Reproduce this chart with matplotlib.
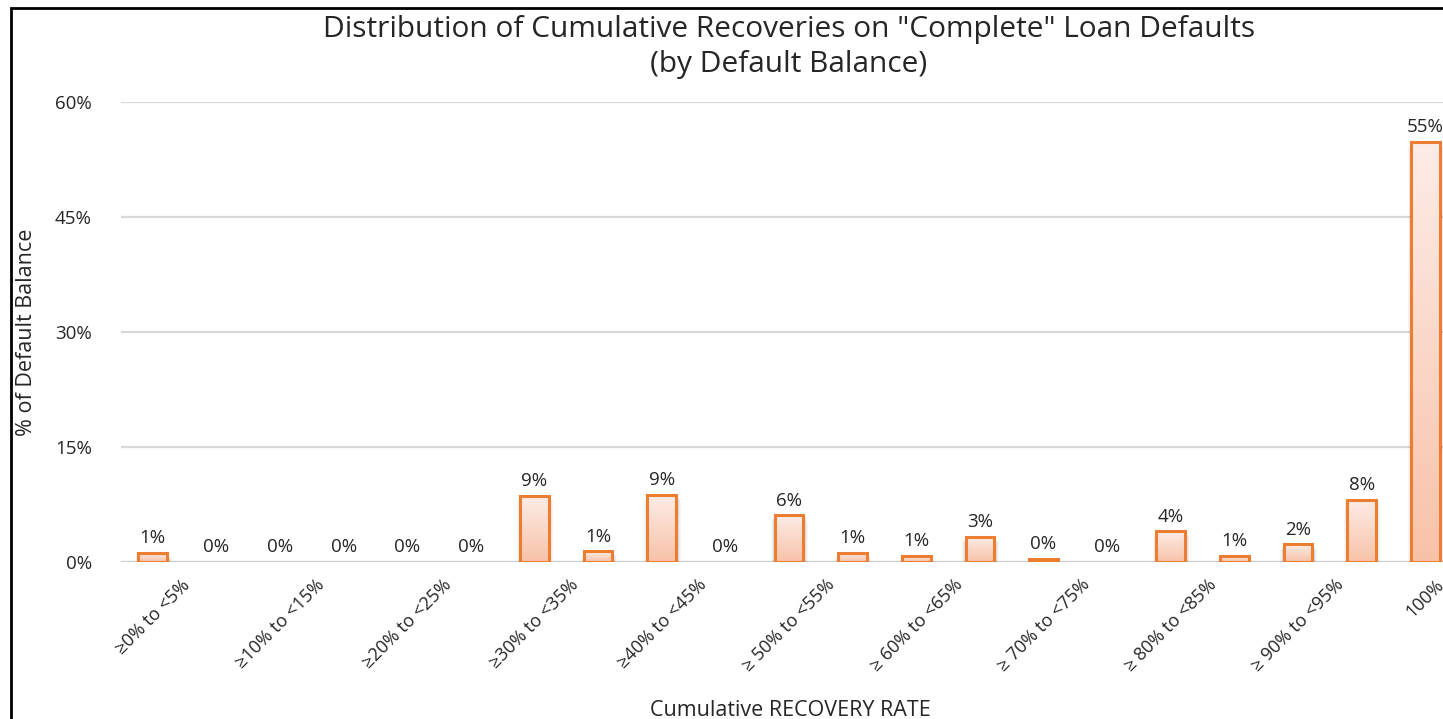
import matplotlib
matplotlib.use("Agg")
import matplotlib.pyplot as plt
import numpy as np
from matplotlib.colors import LinearSegmentedColormap
from matplotlib.patches import Rectangle

plt.rcParams['font.family'] = ['Open Sans', 'DejaVu Sans']

categories = ["≥0% to <5%", "≥5% to <10%", "≥10% to <15%", "≥15% to <20%",
              "≥20% to <25%", "≥25% to <30%", "≥30% to <35%", "≥35% to <40%",
              "≥40% to <45%", "≥45% to <50%", "≥ 50% to <55%", "≥ 55% to <60%",
              "≥ 60% to <65%", "≥ 65% to <70%", "≥ 70% to <75%", "≥ 75% to <80%",
              "≥ 80% to <85%", "≥ 85% to <90%", "≥ 90% to <95%", "≥ 95% to <100%",
              "100%"]
values = [1.2, 0, 0, 0, 0, 0, 8.6, 1.4, 8.8, 0, 6.1, 1.2, 0.8, 3.3, 0.4, 0,
          4.0, 0.8, 2.3, 8.1, 54.8]
yticks = [0, 15, 30, 45, 60]

title = 'Distribution of Cumulative Recoveries on "Complete" Loan Defaults\n(by Default Balance)'
xlabel = "Cumulative RECOVERY RATE"
ylabel = "% of Default Balance"

edge_color = "#ED7D31"
text_color = "#262626"
grad = LinearSegmentedColormap.from_list("g", ["#F8C2A8", "#FDEDE7"])

W, H = 1443, 719
fig = plt.figure(figsize=(W / 100, H / 100), dpi=100)
ax = fig.add_axes([121 / W, 1 - 562 / H, 1336 / W, 460 / H])

x = np.arange(len(categories))
bw = 0.45
bars = ax.bar(x, values, width=bw, facecolor="none", edgecolor=edge_color,
              linewidth=2.2, zorder=4)

gradient = np.linspace(0, 1, 256).reshape(-1, 1)
for i, (rect, v) in enumerate(zip(bars, values)):
    if v <= 0:
        rect.set_edgecolor("none")
        continue
    x0 = rect.get_x()
    w = rect.get_width()
    # soft shadow below the bar
    for k, a in enumerate([0.08, 0.06, 0.04, 0.03]):
        d = 0.03 + 0.03 * k
        sh = Rectangle((x0 - d / 2 + 0.01, -0.25 - 0.35 * k), w + d, v + 0.2 * k,
                       facecolor="#000000", edgecolor="none", alpha=a, zorder=2)
        ax.add_patch(sh)
    white = Rectangle((x0, 0), w, v, facecolor="white", edgecolor="none", zorder=2.5)
    ax.add_patch(white)
    im = ax.imshow(gradient, extent=[x0, x0 + w, 0, v], origin="lower",
                   aspect="auto", cmap=grad, zorder=3, interpolation="bilinear")
    im.set_clip_path(rect)

for i, v in enumerate(values):
    ax.annotate(f"{int(v + 0.5)}%", (x[i], v), xytext=(0, 7), textcoords="offset points",
                ha="center", va="baseline", fontsize=13.5, color=text_color, zorder=6)

ax.set_xlim(-0.5, len(categories) - 0.5)
ax.set_ylim(0, 60)
ax.set_yticks(yticks)
ax.set_yticklabels([f"{t}%" for t in yticks], fontsize=13.5, color=text_color)
ax.set_xticks(x[::2])
ax.set_xticklabels(categories[::2], rotation=45, ha="center", fontsize=13,
                   color=text_color)
ax.tick_params(axis="both", length=0)
ax.tick_params(axis="y", pad=21)
ax.tick_params(axis="x", pad=10)
for s in ax.spines.values():
    s.set_visible(False)
for t in yticks[1:]:
    ax.axhline(t, color="#D9D9D9", linewidth=1.6, zorder=1)
ax.axhline(0, color="#D0D0D0", linewidth=2.4, zorder=1)

fig.text(789 / W, 1 - 47 / H, title, ha="center", va="center", fontsize=21.5,
         color=text_color, linespacing=1.3)
fig.text(790 / W, 1 - 710 / H, xlabel, ha="center", va="center", fontsize=15.5,
         color=text_color)
fig.text(27 / W, 1 - 332 / H, ylabel, ha="center", va="center", rotation=90,
         fontsize=15.5, color=text_color)

border = Rectangle((11 / W, -0.1), 1.2, 1 - 8 / H + 0.1, transform=fig.transFigure,
                   facecolor="none", edgecolor="black", linewidth=2, zorder=10)
fig.patches.append(border)

fig.savefig("out.png", dpi=100)
